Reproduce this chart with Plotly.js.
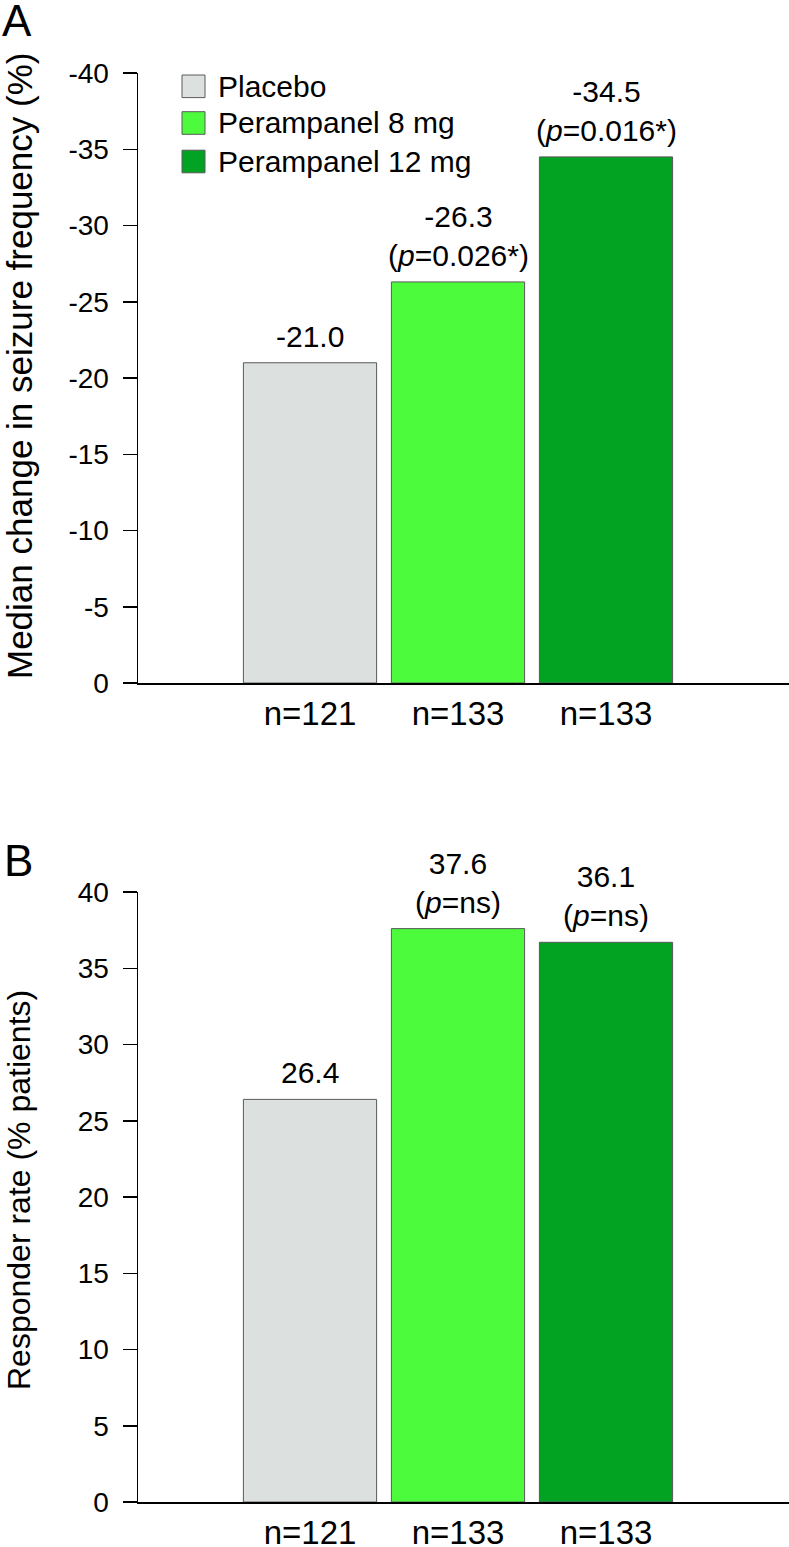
<!DOCTYPE html>
<html>
<head>
<meta charset="utf-8">
<script src="https://cdn.plot.ly/plotly-3.0.1.min.js"></script>
<style>
html,body{margin:0;padding:0;background:#fff;}
#chart{width:789px;height:1547px;}
</style>
</head>
<body>
<div id="chart"></div>
<script>
// ---- Data ----
const categories = ['Placebo', 'Perampanel 8 mg', 'Perampanel 12 mg'];
const nLabels = ['n=121', 'n=133', 'n=133'];
const medianChange = [-21.0, -26.3, -34.5];          // panel A (%)
const medianPText = ['', '0.026*', '0.016*'];
const responderRate = [26.4, 37.6, 36.7];            // panel B bar heights as drawn (%)
const responderText = ['26.4', '37.6', '36.1'];       // printed labels
const responderPText = ['', 'ns', 'ns'];
const yTicksA = [0, -5, -10, -15, -20, -25, -30, -35, -40];
const yTicksB = [0, 5, 10, 15, 20, 25, 30, 35, 40];
const titleA = 'Median change in seizure frequency (%)';
const titleB = 'Responder rate (% patients)';
const barColors = ['#dce1e0', '#4cfc3c', '#02a223'];

// ---- Layout geometry ----
const W = 789, H = 1547;
const M = {l: 138, r: 0, t: 73, b: 45};
const plotW = W - M.l - M.r, plotH = H - M.t - M.b;
const px2x = p => (p - M.l) / plotW;
const px2y = p => (H - M.b - p) / plotH;
const FONT = 'Liberation Sans, Arial, Helvetica, sans-serif';

const traces = [];
categories.forEach((c, i) => {
  traces.push({
    type: 'bar', x: [c], y: [medianChange[i]], xaxis: 'x', yaxis: 'y',
    name: c, width: 0.9, showlegend: false, hoverinfo: 'skip',
    marker: {color: barColors[i], line: {color: '#5a5a5a', width: 1}}
  });
  traces.push({
    type: 'bar', x: [c], y: [responderRate[i]], xaxis: 'x2', yaxis: 'y2',
    name: c, width: 0.9, showlegend: false, hoverinfo: 'skip',
    marker: {color: barColors[i], line: {color: '#5a5a5a', width: 1}}
  });
});

const annotations = [];
const shapes = [];
categories.forEach((c, i) => {
  let tA = medianChange[i].toFixed(1);
  if (medianPText[i]) tA += '<br>(<i>p</i>=' + medianPText[i] + ')';
  annotations.push({xref: 'x', yref: 'y', x: c, y: medianChange[i], yanchor: 'bottom',
    yshift: 8, showarrow: false, text: tA, font: {size: 30, color: '#000'}});
  let tB = responderText[i];
  if (responderPText[i]) tB += '<br>(<i>p</i>=' + responderPText[i] + ')';
  annotations.push({xref: 'x2', yref: 'y2', x: c, y: responderRate[i], yanchor: 'bottom',
    yshift: 8, showarrow: false, text: tB, font: {size: 30, color: '#000'}});
  // legend
  const cy = [86.3, 123, 161.5][i];
  shapes.push({type: 'rect', xref: 'paper', yref: 'paper',
    x0: px2x(182), x1: px2x(205), y0: px2y(cy - 11.3), y1: px2y(cy + 11.3),
    fillcolor: barColors[i], line: {color: '#5a5a5a', width: 1}});
  annotations.push({xref: 'paper', yref: 'paper', x: px2x(216), y: px2y(cy),
    xanchor: 'left', yanchor: 'middle', showarrow: false, text: c,
    font: {size: 30, color: '#000'}});
});
annotations.push({xref: 'paper', yref: 'paper', x: px2x(0), y: px2y(21), xanchor: 'left',
  yanchor: 'middle', showarrow: false, text: 'A', font: {size: 44, color: '#000'}});
annotations.push({xref: 'paper', yref: 'paper', x: px2x(2), y: px2y(860), xanchor: 'left',
  yanchor: 'middle', showarrow: false, text: 'B', font: {size: 44, color: '#000'}});
// y-axis titles
annotations.push({xref: 'paper', yref: 'paper', x: px2x(19), y: px2y(366), xanchor: 'center',
  yanchor: 'middle', textangle: -90, showarrow: false, text: titleA, font: {size: 35, color: '#000'}});
annotations.push({xref: 'paper', yref: 'paper', x: px2x(19), y: px2y(1190), xanchor: 'center',
  yanchor: 'middle', textangle: -90, showarrow: false, text: titleB, font: {size: 32, color: '#000'}});

const xCommon = {
  type: 'category', categoryorder: 'array', categoryarray: categories,
  range: [(M.l - 310) / 148, (W - M.r - 310) / 148],
  showline: true, linecolor: '#000', linewidth: 1.5, ticks: '',
  tickmode: 'array', tickvals: categories, ticktext: nLabels,
  tickfont: {size: 33, color: '#000'}, ticklabelstandoff: 1,
  showgrid: false, zeroline: false, fixedrange: true
};
const yCommon = {
  showline: true, linecolor: '#000', linewidth: 1.5,
  ticks: 'outside', ticklen: 14, tickwidth: 1.5, tickcolor: '#000',
  tickfont: {size: 28, color: '#000'}, ticklabelstandoff: 8,
  showgrid: false, zeroline: false, fixedrange: true, tickmode: 'array'
};

const layout = {
  width: W, height: H, margin: M,
  paper_bgcolor: '#fff', plot_bgcolor: '#fff',
  font: {family: FONT, color: '#000'},
  barmode: 'overlay', showlegend: false,
  xaxis: Object.assign({}, xCommon, {anchor: 'y', domain: [0, 1]}),
  xaxis2: Object.assign({}, xCommon, {anchor: 'y2', domain: [0, 1]}),
  yaxis: Object.assign({}, yCommon, {anchor: 'x', domain: [px2y(683), 1],
    range: [0, -40], tickvals: yTicksA, ticktext: yTicksA.map(String)}),
  yaxis2: Object.assign({}, yCommon, {anchor: 'x2', domain: [0, px2y(892)],
    range: [0, 40], tickvals: yTicksB, ticktext: yTicksB.map(String)}),
  annotations: annotations,
  shapes: shapes
};

Plotly.newPlot('chart', traces, layout, {displayModeBar: false, staticPlot: true});
</script>
</body>
</html>
